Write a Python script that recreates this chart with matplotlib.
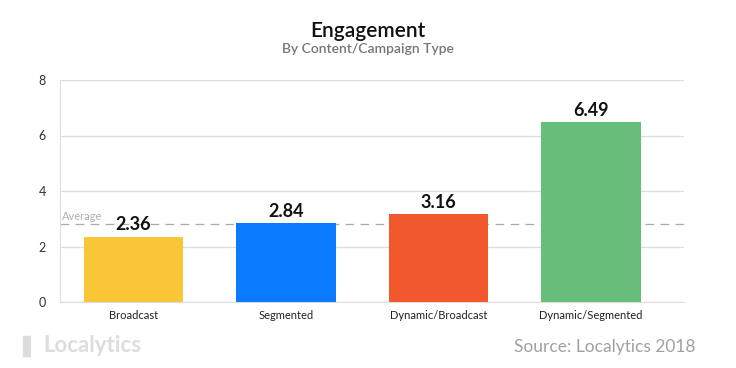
import matplotlib
matplotlib.use("Agg")
import matplotlib.pyplot as plt

categories = ["Broadcast", "Segmented", "Dynamic/Broadcast", "Dynamic/Segmented"]
values = [2.36, 2.84, 3.16, 6.49]
average = 2.8
colors = ["#F9C638", "#0A7BFF", "#F1582D", "#67BD7A"]
yticks = [0, 2, 4, 6, 8]

plt.rcParams['font.family'] = ['Lato', 'DejaVu Sans']

fig = plt.figure(figsize=(7.36, 3.68), dpi=100)
ax = fig.add_axes([60/736, 1-302/368, 624/736, 222/368])

x = list(range(len(categories)))
ax.bar(x, values, width=0.655, color=colors, zorder=3)
for xi, v in zip(x, values):
    ax.text(xi, v + 0.12, f"{v:.2f}", ha="center", va="bottom", fontsize=13,
            fontweight="bold", color="#111111", zorder=4)

ax.axhline(average, color="#AAAAAA", lw=0.9, ls=(0, (7, 5)), zorder=2)
ax.text(-0.47, average + 0.08, "Average", fontsize=8, color="#B0B0B0",
        ha="left", va="bottom", zorder=4)

ax.set_xlim(-0.482, 3.61)
ax.set_ylim(0, 8)
ax.set_yticks(yticks)
ax.set_xticks(x)
ax.set_xticklabels(categories, fontsize=8)
ax.tick_params(axis="y", labelsize=9, length=0, pad=10, colors="#333333")
ax.tick_params(axis="x", length=0, pad=6, colors="#222222")
ax.grid(axis="y", color="#DDDDDD", lw=0.9, zorder=0)
for s in ["top", "right"]:
    ax.spines[s].set_visible(False)
ax.spines["left"].set_color("#DDDDDD")
ax.spines["bottom"].set_color("#DDDDDD")

fig.text(0.5, 1-31/368, "Engagement", ha="center", va="center", fontsize=15,
         fontweight="semibold", color="#111111")
fig.text(0.5, 1-49/368, "By Content/Campaign Type", ha="center", va="center",
         fontsize=10, fontweight="semibold", color="#777777")
fig.text(696/736, 1-347/368, "Source: Localytics 2018", ha="right", va="center",
         fontsize=12.5, color="#A0A0A0")
fig.text(43/736, 1-346/368, "Localytics", ha="left", va="center", fontsize=16,
         fontweight="bold", color="#DDDDDD")
fig.text(22/736, 1-346/368, "\u258c", ha="left", va="center", fontsize=15,
         color="#DDDDDD")

fig.savefig("out.png", dpi=100)
